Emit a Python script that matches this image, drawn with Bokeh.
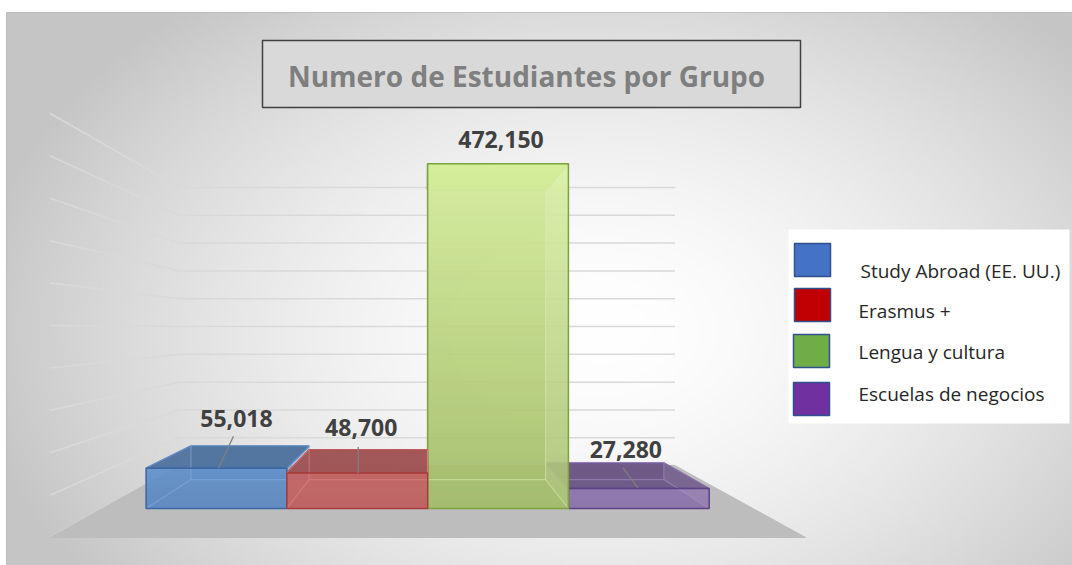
import numpy as np
from bokeh.plotting import figure
from bokeh.models import Range1d
from bokeh.core.properties import value
from bokeh.embed import file_html
from bokeh.resources import INLINE

# ---------------- data ----------------
categories = ["Study Abroad (EE. UU.)", "Erasmus +", "Lengua y cultura", "Escuelas de negocios"]
students = [55018, 48700, 472150, 27280]
legend_colors = ["#4472C4", "#C00000", "#70AD47", "#7030A0"]
front_top_colors = ["#5e8fca", "#c46060", "#d6ef9d", "#8c73ad"]
front_bottom_colors = ["#5987c1", "#be5a5a", "#a2bc68", "#8870a8"]
top_colors = ["#4e729e", "#9e5252", "#c9e497", "#6a5585"]
edge_colors = ["#3d66a3", "#a63c3c", "#7ea23e", "#5e4286"]
inner_colors = ["#86aee0", "#de8a8a", "#d8eeaa", "#a892c8"]
grid_values = list(range(0, 500001, 50000))
title = "Numero de Estudiantes por Grupo"

# ---------------- layout (page pixels) ----------------
W, H = 1072, 565
FRAME_X0, FRAME_Y0 = 6, 12          # page position of the chart area's top-left
FRAME_W, FRAME_H = W - FRAME_X0, H - FRAME_Y0
UNIT_PX = 163.5          # width of one bar on the floor-front plane
X0_PX = 100.4            # page x of the first bar's left side on that plane
PX_PER_V = 0.000848      # pixels per student on that plane
V0_PY = 537.0            # page y of zero on that plane
VP_PX, VP_PY = 425.5, 328.0   # vanishing point
F_FRONT, F_BACK, F_WALL = 0.139, 0.277, 0.344
FLOOR_X = (-0.31, 4.31)

def dx(px):
    return (px - X0_PX) / UNIT_PX

def dv(py):
    return (V0_PY - py) / PX_PER_V

VP_X, VP_V = dx(VP_PX), dv(VP_PY)

def proj(X, v, f):
    return VP_X + (X - VP_X) * (1 - f), VP_V + (v - VP_V) * (1 - f)

def hex2rgb(h):
    h = h.lstrip("#")
    return np.array([int(h[k:k + 2], 16) for k in (0, 2, 4)], dtype=float)

def rgba_image(rgb_rows, alpha):
    """rgb_rows: (ny, nx, 3) float array, row 0 at the bottom."""
    ny, nx = rgb_rows.shape[:2]
    im = np.empty((ny, nx), dtype=np.uint32)
    vw = im.view(dtype=np.uint8).reshape((ny, nx, 4))
    vw[:, :, :3] = np.clip(rgb_rows, 0, 255).astype(np.uint8)
    vw[:, :, 3] = int(alpha * 255)
    return im

p = figure(width=W, height=H, output_backend="svg", toolbar_location=None,
           x_range=Range1d(dx(FRAME_X0), dx(W)),
           y_range=Range1d(dv(H), dv(FRAME_Y0)),
           x_axis_location=None, y_axis_location=None,
           min_border_left=FRAME_X0, min_border_right=0, min_border_bottom=0,
           min_border_top=FRAME_Y0)
p.grid.visible = False
p.border_fill_color = "white"
p.outline_line_color = "#b8b8b8"
p.background_fill_color = "#e0e0e0"

# ---------------- radial background ----------------
nx, ny = 268, 138
jj = (np.arange(nx) + 0.5) / nx * FRAME_W + FRAME_X0
ii = H - (np.arange(ny) + 0.5) / ny * FRAME_H
PX, PY = np.meshgrid(jj, ii)
d = np.sqrt(((PX - 600) / 620.0) ** 2 + ((PY - 330) / 420.0) ** 2)
bright = 255 - np.minimum(58, 56 * np.clip(d, 0, 1.3) ** 1.6)
bg = np.repeat(bright[:, :, None], 3, axis=2)
p.image_rgba(image=[rgba_image(bg, 1.0)], x=dx(FRAME_X0), y=dv(H),
             dw=dx(W) - dx(FRAME_X0), dh=dv(FRAME_Y0) - dv(H))

# ---------------- walls gridlines ----------------
gxs, gys = [], []
for gv in grid_values:
    a = proj(FLOOR_X[0], gv, 0)
    b1 = proj(FLOOR_X[0], gv, F_WALL)
    c = proj(FLOOR_X[1], gv, F_WALL)
    gxs.append([a[0], b1[0], c[0]])
    gys.append([a[1], b1[1], c[1]])
p.multi_line(gxs, gys, line_color="#d9d9d9", line_width=1.5)

# ---------------- floor ----------------
corners = [proj(FLOOR_X[0], 0, 0), proj(FLOOR_X[1], 0, 0),
           proj(FLOOR_X[1], 0, F_WALL), proj(FLOOR_X[0], 0, F_WALL)]
p.patch([c[0] for c in corners], [c[1] for c in corners],
        fill_color="#bdbdbd", line_color="#bdbdbd", line_width=1)

# ---------------- bars (painted far-from-centre first) ----------------
def face(pts):
    return [q[0] for q in pts], [q[1] for q in pts]

order = sorted(range(len(students)), key=lambda k: -abs(k + 0.5 - VP_X))
for i in order:
    v = students[i]
    L, R = i, i + 1
    # back face
    xs, ys = face([proj(L, 0, F_BACK), proj(R, 0, F_BACK), proj(R, v, F_BACK), proj(L, v, F_BACK)])
    p.patch(xs, ys, fill_color=front_bottom_colors[i], fill_alpha=0.35, line_alpha=0)
    # top face
    xs, ys = face([proj(L, v, F_FRONT), proj(R, v, F_FRONT), proj(R, v, F_BACK), proj(L, v, F_BACK)])
    p.patch(xs, ys, fill_color=top_colors[i], fill_alpha=0.95,
            line_color=edge_colors[i], line_width=1.5)
    # front face with vertical gradient
    fl, fb = proj(L, 0, F_FRONT)
    fr, ft = proj(R, v, F_FRONT)
    nrow = 64
    t = (np.arange(nrow) + 0.5) / nrow
    c0, c1 = hex2rgb(front_bottom_colors[i]), hex2rgb(front_top_colors[i])
    rows = c0[None, :] + (c1 - c0)[None, :] * t[:, None]
    grad = np.repeat(rows[:, None, :], 2, axis=1)
    p.image_rgba(image=[rgba_image(grad, 0.9)], x=fl, y=fb, dw=fr - fl, dh=ft - fb)
    # right side seen through the front
    xs, ys = face([proj(R, 0, F_FRONT), proj(R, 0, F_BACK), proj(R, v, F_BACK), proj(R, v, F_FRONT)])
    p.patch(xs, ys, fill_color="white", fill_alpha=0.08, line_alpha=0)
    # hidden edges
    ex, ey = [], []
    segs = [((L, 0, F_BACK), (R, 0, F_BACK)), ((L, v, F_BACK), (R, v, F_BACK)),
            ((L, 0, F_BACK), (L, v, F_BACK)), ((R, 0, F_BACK), (R, v, F_BACK)),
            ((L, 0, F_FRONT), (L, 0, F_BACK)), ((R, 0, F_FRONT), (R, 0, F_BACK)),
            ((L, v, F_FRONT), (L, v, F_BACK)), ((R, v, F_FRONT), (R, v, F_BACK))]
    for s0, s1 in segs:
        a0, a1 = proj(*s0), proj(*s1)
        ex.append([a0[0], a1[0]])
        ey.append([a0[1], a1[1]])
    p.multi_line(ex, ey, line_color=inner_colors[i], line_alpha=0.55, line_width=1.2)
    # front outline
    xs, ys = face([proj(L, 0, F_FRONT), proj(R, 0, F_FRONT), proj(R, v, F_FRONT), proj(L, v, F_FRONT)])
    p.patch(xs, ys, fill_alpha=0, line_color=edge_colors[i], line_width=1.5)

# ---------------- data labels ----------------
LABEL_OFF = [(20, -50), (4, -45), (3, -24), (-13, -39)]
LEADER_OFF = [((17, -32), (2, 0)), ((1, -26), (1, 0)), None, ((-16, -21), (-1, -1))]
lx, ly, lt = [], [], []
leader_x, leader_y = [], []
for i, v in enumerate(students):
    ax, av = proj(i + 0.5, v, F_FRONT)
    lx.append(ax + LABEL_OFF[i][0] / UNIT_PX)
    ly.append(av - LABEL_OFF[i][1] / PX_PER_V)
    lt.append(f"{v:,}")
    if LEADER_OFF[i] is not None:
        (s_x, s_y), (e_x, e_y) = LEADER_OFF[i]
        leader_x.append([ax + s_x / UNIT_PX, ax + e_x / UNIT_PX])
        leader_y.append([av - s_y / PX_PER_V, av - e_y / PX_PER_V])
p.multi_line(leader_x, leader_y, line_color="#7f7f7f", line_width=1.3)
p.text(lx, ly, text=lt, text_font=value("Open Sans"), text_font_size="23px",
       text_font_style="bold", text_color="#404040", text_align="center",
       text_baseline="middle")

# ---------------- title box ----------------
p.quad(left=[dx(262)], right=[dx(800)], top=[dv(40)], bottom=[dv(107)],
       fill_color="#d9d9d9", line_color="#404040", line_width=1.5)
p.text([dx(526)], [dv(75)], text=[title], text_font=value("Open Sans"),
       text_font_size="28px", text_font_style="bold", text_color="#7f7f7f",
       text_align="center", text_baseline="middle")

# ---------------- legend ----------------
p.quad(left=[dx(788)], right=[dx(1069)], top=[dv(229)], bottom=[dv(423)],
       fill_color="white", line_alpha=0)
SW_LEFT = [794, 794, 793, 793]
SW_TOP = [243, 288, 334, 382]
SW_SIZE = (36, 33)
TXT_X = [860, 858, 858, 858]
TXT_Y = [270, 310, 351, 393]
p.quad(left=[dx(a) for a in SW_LEFT], right=[dx(a + SW_SIZE[0]) for a in SW_LEFT],
       top=[dv(t) for t in SW_TOP], bottom=[dv(t + SW_SIZE[1]) for t in SW_TOP],
       fill_color=legend_colors, line_color="#2f528f", line_width=1.5)
p.text([dx(a) for a in TXT_X], [dv(t) for t in TXT_Y], text=categories,
       text_font=value("Open Sans"), text_font_size="19px", text_color="#262626",
       text_align="left", text_baseline="middle")

open("out.html", "w").write(file_html(p, INLINE))
